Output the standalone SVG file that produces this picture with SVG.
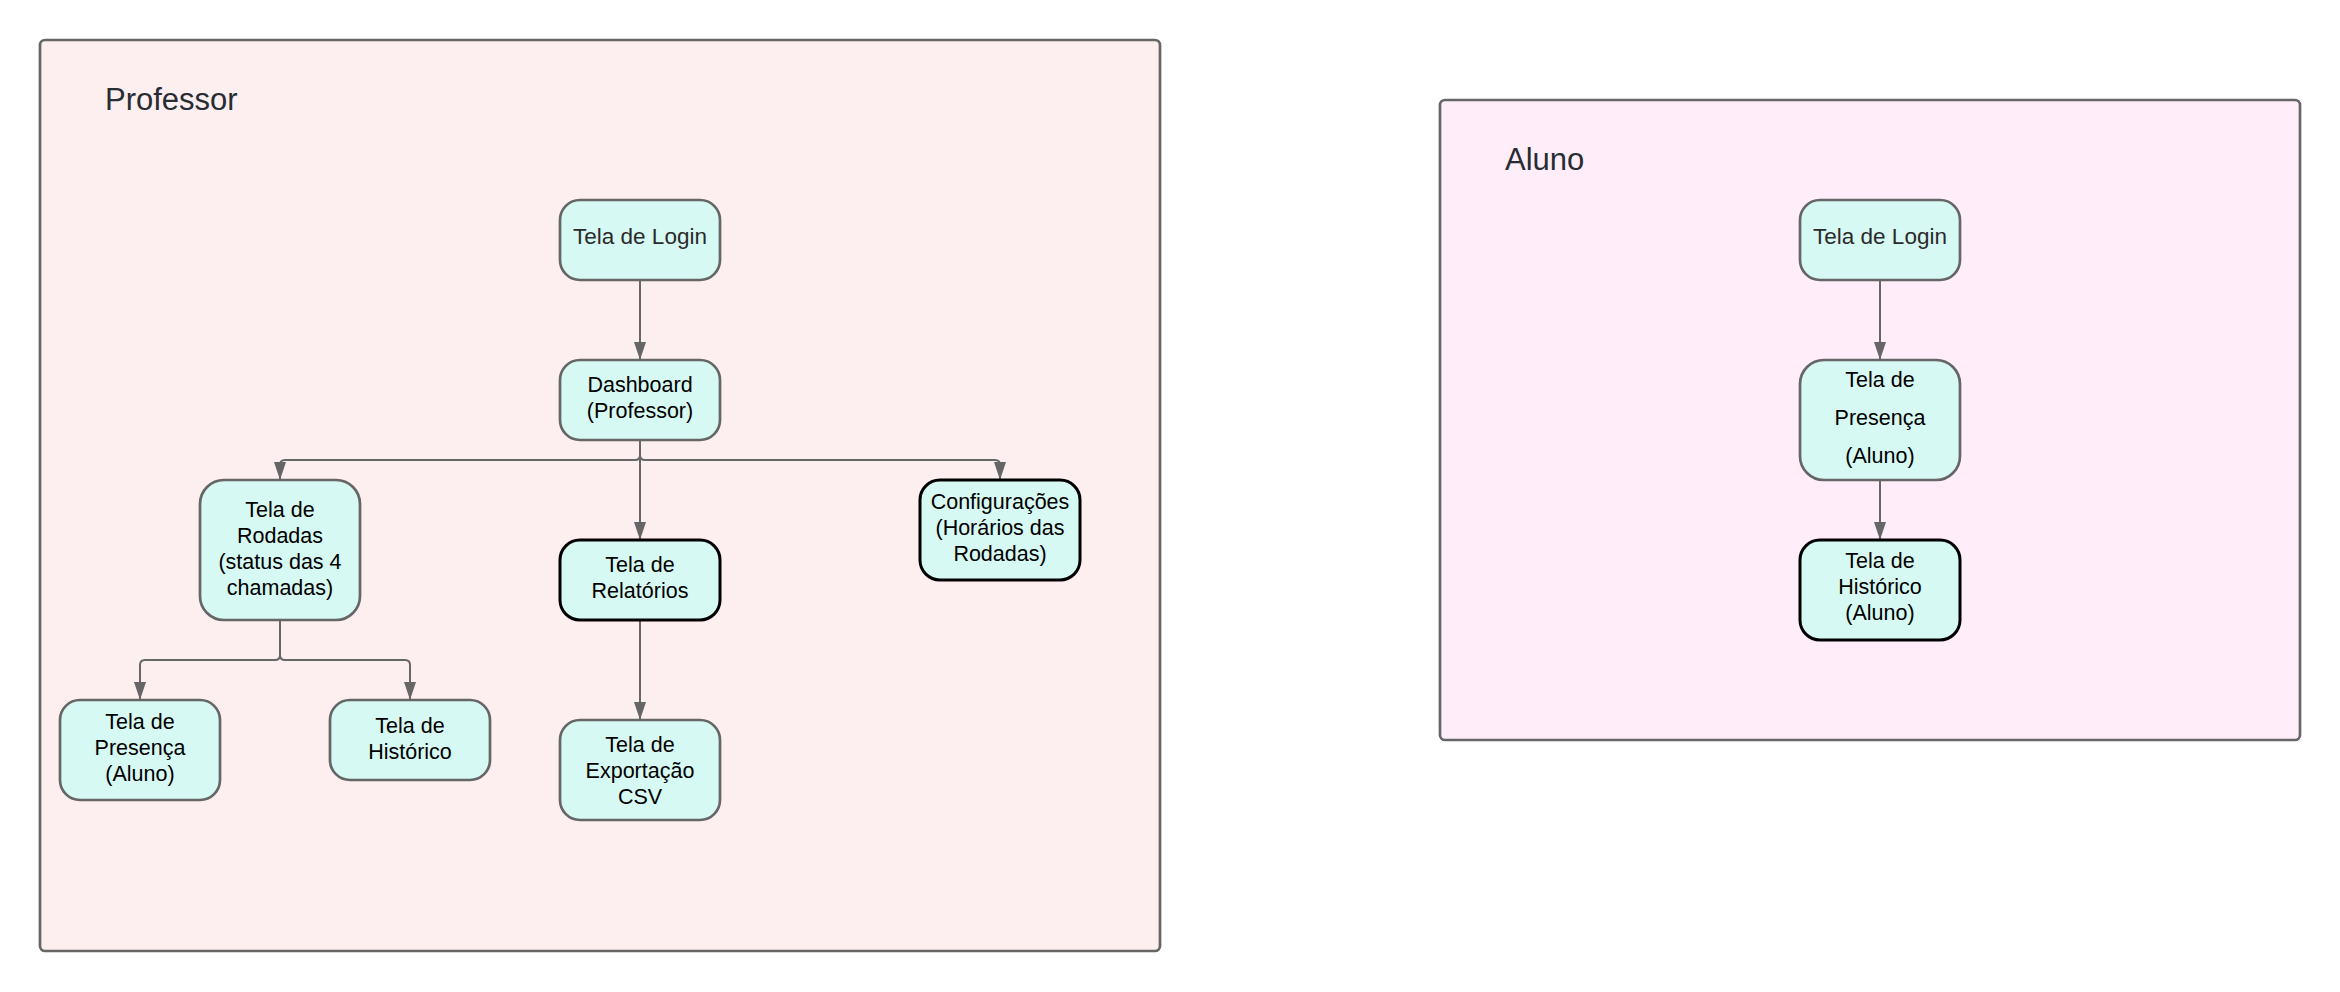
<svg xmlns="http://www.w3.org/2000/svg" width="2340" height="992" viewBox="0 0 2340 992">
<style>
.container{stroke:#666666;stroke-width:2.7}
.title{font-family:"Liberation Sans",Arial,sans-serif;font-size:31px;fill:#282c33}
.node{fill:#d7f9f3;stroke:#666666;stroke-width:2.7}
.bold{stroke:#000000;stroke-width:3}
.lbl{font-family:"Liberation Sans",Arial,sans-serif;font-size:21.5px;fill:#000000;text-anchor:middle}
.lbl.dim{fill:#2b2b2b;font-size:22.5px}
.conn{fill:none;stroke:#666666;stroke-width:2;marker-end:url(#arrow)}
</style>
<defs>
<marker id="arrow" markerUnits="userSpaceOnUse" viewBox="0 0 18 12" refX="18" refY="6" markerWidth="18" markerHeight="12" orient="auto">
<path d="M0,0 L18,6 L0,12 z" fill="#666666"/>
</marker>
</defs>
<rect width="2340" height="992" fill="#ffffff"/>
<g id="professor-container">
<rect class="container" x="40" y="40" width="1120" height="911" rx="5" fill="#fdefef"/>
<text class="title" x="105" y="110">Professor</text>
</g>
<g id="aluno-container">
<rect class="container" x="1440" y="100" width="860" height="640" rx="5" fill="#ffeefa"/>
<text class="title" x="1505" y="170">Aluno</text>
</g>
<g id="connectors">
<path class="conn" d="M640,280 V360"/>
<path class="conn" d="M640,440 V455 Q640,460 635,460 H285 Q280,460 280,465 V480"/>
<path class="conn" d="M640,440 V455 Q640,460 645,460 H995 Q1000,460 1000,465 V480"/>
<path class="conn" d="M640,440 V540"/>
<path class="conn" d="M280,620 V655 Q280,660 275,660 H145 Q140,660 140,665 V700"/>
<path class="conn" d="M280,620 V655 Q280,660 285,660 H405 Q410,660 410,665 V700"/>
<path class="conn" d="M640,620 V720"/>
<path class="conn" d="M1880,280 V360"/>
<path class="conn" d="M1880,480 V540"/>
</g>
<g id="prof-login">
<rect class="node" x="560" y="200" width="160" height="80" rx="20"/>
<text class="lbl dim" x="640" y="244">Tela de Login</text>
</g>
<g id="prof-dashboard">
<rect class="node" x="560" y="360" width="160" height="80" rx="20"/>
<text class="lbl" x="640" y="392">Dashboard</text>
<text class="lbl" x="640" y="418">(Professor)</text>
</g>
<g id="prof-rodadas">
<rect class="node" x="200" y="480" width="160" height="140" rx="24"/>
<text class="lbl" x="280" y="517">Tela de</text>
<text class="lbl" x="280" y="543">Rodadas</text>
<text class="lbl" x="280" y="569">(status das 4</text>
<text class="lbl" x="280" y="595">chamadas)</text>
</g>
<g id="prof-relatorios">
<rect class="node bold" x="560" y="540" width="160" height="80" rx="20"/>
<text class="lbl" x="640" y="572">Tela de</text>
<text class="lbl" x="640" y="598">Relatórios</text>
</g>
<g id="prof-config">
<rect class="node bold" x="920" y="480" width="160" height="100" rx="20"/>
<text class="lbl" x="1000" y="509">Configurações</text>
<text class="lbl" x="1000" y="535">(Horários das</text>
<text class="lbl" x="1000" y="561">Rodadas)</text>
</g>
<g id="prof-presenca">
<rect class="node" x="60" y="700" width="160" height="100" rx="20"/>
<text class="lbl" x="140" y="729">Tela de</text>
<text class="lbl" x="140" y="755">Presença</text>
<text class="lbl" x="140" y="781">(Aluno)</text>
</g>
<g id="prof-historico">
<rect class="node" x="330" y="700" width="160" height="80" rx="20"/>
<text class="lbl" x="410" y="733">Tela de</text>
<text class="lbl" x="410" y="759">Histórico</text>
</g>
<g id="prof-exportacao">
<rect class="node" x="560" y="720" width="160" height="100" rx="20"/>
<text class="lbl" x="640" y="752">Tela de</text>
<text class="lbl" x="640" y="778">Exportação</text>
<text class="lbl" x="640" y="804">CSV</text>
</g>
<g id="aluno-login">
<rect class="node" x="1800" y="200" width="160" height="80" rx="20"/>
<text class="lbl dim" x="1880" y="244">Tela de Login</text>
</g>
<g id="aluno-presenca">
<rect class="node" x="1800" y="360" width="160" height="120" rx="24"/>
<text class="lbl" x="1880" y="387">Tela de</text>
<text class="lbl" x="1880" y="425">Presença</text>
<text class="lbl" x="1880" y="463">(Aluno)</text>
</g>
<g id="aluno-historico">
<rect class="node bold" x="1800" y="540" width="160" height="100" rx="20"/>
<text class="lbl" x="1880" y="568">Tela de</text>
<text class="lbl" x="1880" y="594">Histórico</text>
<text class="lbl" x="1880" y="620">(Aluno)</text>
</g>
</svg>
